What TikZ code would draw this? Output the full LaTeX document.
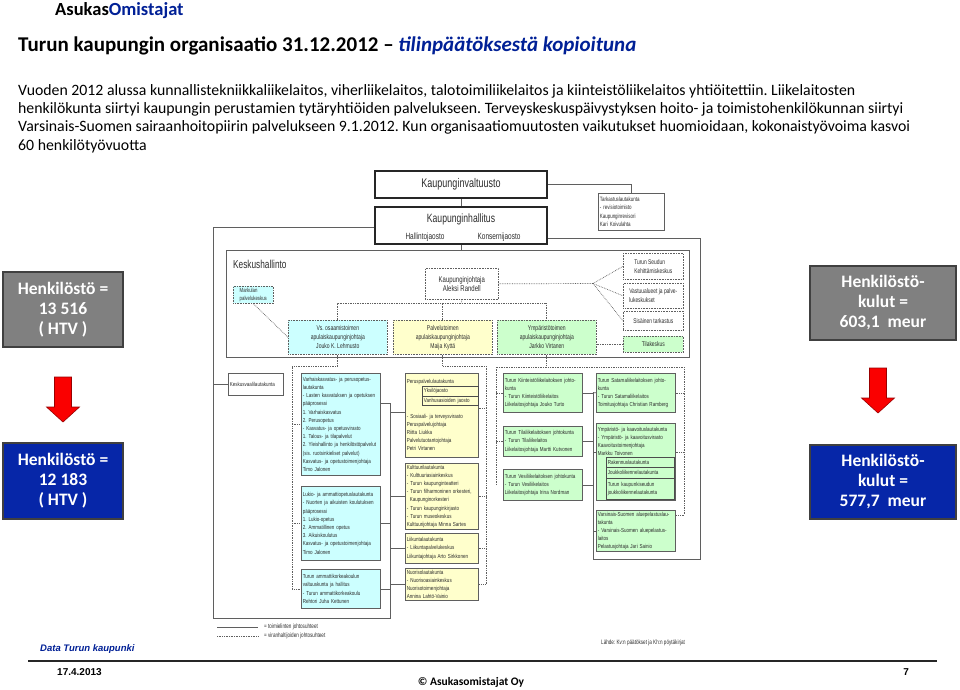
\documentclass[tikz,border=0pt]{standalone}
\usepackage{fontspec}
\setmainfont{Carlito}
\newfontfamily\orgfont[FakeStretch=0.72]{Liberation Sans}
\newfontfamily\lkfont[FakeStretch=0.78]{Liberation Sans}
\newfontfamily\arialfont{Liberation Sans}
\usetikzlibrary{positioning}
\frenchspacing
\definecolor{AONavy}{RGB}{0,32,150}
\definecolor{BoxGray}{RGB}{128,128,128}
\definecolor{BoxBlue}{RGB}{6,38,168}
\definecolor{ArrRed}{RGB}{250,0,0}
\definecolor{OrgLine}{RGB}{95,95,95}
\definecolor{OrgText}{RGB}{45,45,45}
\definecolor{OrgCyan}{RGB}{204,255,255}
\definecolor{OrgYellow}{RGB}{255,255,204}
\definecolor{OrgGreen}{RGB}{204,255,204}

\begin{document}
\begin{tikzpicture}[x=1pt, y=-1pt,
    statbox/.style={draw=black!75, line width=1.2pt, text=white, align=center,
                    font=\fontsize{17.5}{20}\selectfont\bfseries, inner sep=0pt},
    kvbox/.style={draw=black!85, line width=1.6pt, minimum width=172pt, text=OrgText},
    lkbox/.style={draw=OrgLine, line width=0.7pt, anchor=north west, align=left,
                  inner xsep=1.5pt, inner ysep=1.5pt, text=OrgText,
                  font=\lkfont\fontsize{5.8}{8.2}\selectfont},
    khbox/.style={draw=OrgLine, densely dotted, line width=0.6pt, anchor=north west,
                  inner sep=1.5pt, text=OrgText},
    khtext/.style={font=\orgfont\fontsize{7}{9}\selectfont},
    sidetext/.style={font=\orgfont\fontsize{6.8}{9}\selectfont, align=left},
    orgln/.style={draw=OrgLine, line width=0.7pt},
    dotln/.style={draw=OrgLine, densely dotted, line width=0.7pt},
    legtext/.style={font=\orgfont\fontsize{6.4}{8}\selectfont, text=OrgText, inner sep=0pt}
  ]
  \useasboundingbox (0,0) rectangle (960,689);
  \fill[white] (0,0) rectangle (960,689);

  % header
  \node[anchor=base west, inner sep=0pt, font=\fontsize{18.5}{20}\selectfont\bfseries] (logo) at (55,15.5)
       {Asukas\textcolor{AONavy}{Omistajat}};
  \node[anchor=base west, inner sep=0pt, font=\fontsize{21}{24}\selectfont\bfseries] (title) at (18,51)
       {Turun kaupungin organisaatio 31.12.2012 -- \textcolor{AONavy}{\itshape tilinpäätöksestä kopioituna}};
  \node[anchor=base west, inner sep=0pt, align=left, font=\fontsize{15.8}{18.3}\selectfont] (intro) at (18,150)
       {Vuoden 2012 alussa kunnallistekniikkaliikelaitos, viherliikelaitos, talotoimiliikelaitos ja kiinteistöliikelaitos yhtiöitettiin. Liikelaitosten\\
        henkilökunta siirtyi kaupungin perustamien tytäryhtiöiden palvelukseen. Terveyskeskuspäivystyksen hoito- ja toimistohenkilökunnan siirtyi\\
        Varsinais-Suomen sairaanhoitopiirin palvelukseen 9.1.2012. Kun organisaatiomuutosten vaikutukset huomioidaan, kokonaistyövoima kasvoi\\
        60 henkilötyövuotta};

  % side figures
  \node[statbox, fill=BoxGray, minimum width=120pt, minimum height=75pt] (hlo1) at (63,309.5)
       {Henkilöstö =\\13 516\\( HTV )};
  \node[statbox, fill=BoxBlue, minimum width=120pt, minimum height=76pt] (hlo2) at (63,481)
       {Henkilöstö =\\12 183\\( HTV )};
  \node[statbox, fill=BoxGray, minimum width=146pt, minimum height=74pt] (kul1) at (883,303)
       {Henkilöstö-\\kulut =\\603,1 \ meur};
  \node[statbox, fill=BoxBlue, minimum width=146pt, minimum height=74pt] (kul2) at (883,482)
       {Henkilöstö-\\kulut =\\577,7 \ meur};

  \foreach \ax/\at/\ah/\ap in {63/377/407/422, 878/368/398/413}{
    \filldraw[fill=ArrRed, draw=red!60!black, line width=0.6pt]
      (\ax-8.5,\at) -- (\ax+8.5,\at) -- (\ax+8.5,\ah) -- (\ax+16.5,\ah) -- (\ax,\ap)
      -- (\ax-16.5,\ah) -- (\ax-8.5,\ah) -- cycle;
  }

  % organisation chart
  \node[kvbox, minimum height=27pt, font=\orgfont\fontsize{12.5}{14}\selectfont] (kv) at (461,184.5)
       {Kaupunginvaltuusto};
  \node[kvbox, minimum height=37pt] (kh) at (461,225.5) {};
  \node[font=\orgfont\fontsize{12}{14}\selectfont, text=OrgText] (khname) at (461,219) {Kaupunginhallitus};
  \node[font=\orgfont\fontsize{9}{10}\selectfont, text=OrgText] (hj) at (425,237.5) {Hallintojaosto};
  \node[font=\orgfont\fontsize{9}{10}\selectfont, text=OrgText] (kj2) at (499,237.5) {Konsernijaosto};

  \node[lkbox, text width=63pt, minimum height=37pt, font=\orgfont\fontsize{6.2}{8.5}\selectfont] (tark) at (598,193)
       {Tarkastuslautakunta\\- revisiotoimisto\\Kaupunginrevisori\\Kari Koivulahta};

  \draw[orgln] (kv.south) -- (kh.north);
  \draw[orgln] (kv.east) -| (tark.north);

  \coordinate (frL) at (213,227);
  \coordinate (fbl) at (213,618);
  \coordinate (trL) at (390,403);
  \coordinate (frR) at (700,238);
  \coordinate (fbr) at (700,559);
  \coordinate (trR) at (593,392.5);
  \draw[orgln, line width=0.9pt] (kh.west |- frL) -- (frL) -- (fbl) -| (trL);
  \draw[orgln, line width=0.9pt] (kh.east |- frR) -- (frR) -- (fbr) -| (trR);

  % Keskushallinto
  \node[draw=OrgLine, line width=0.9pt, anchor=north west, minimum width=463pt, minimum height=107pt,
        inner sep=0pt] (kesk) at (226,250) {};
  \draw[orgln] (kh.south) -- (kh.south |- kesk.north);
  \node[anchor=base west, inner sep=0pt, text=OrgText, font=\orgfont\fontsize{11.5}{13}\selectfont]
       (keskt) at (233,268) {Keskushallinto};

  \node[khbox, minimum width=73pt, minimum height=31pt, align=center, font=\orgfont\fontsize{8.3}{9}\selectfont]
       (kjoht) at (425,268) {Kaupunginjohtaja\\Aleksi Randell};
  \node[khbox, fill=OrgCyan, minimum width=40pt, minimum height=17pt, align=left,
        font=\orgfont\fontsize{6}{7.5}\selectfont] (mark) at (233,286) {Markulan\\palvelukeskus};
  \node[khbox, khtext, fill=OrgCyan, minimum width=99pt, minimum height=34pt, align=center] (vs) at (288,320)
       {Vs. osaamistoimen\\apulaiskaupunginjohtaja\\Jouko K. Lehmusto};
  \node[khbox, khtext, fill=OrgYellow, minimum width=99pt, minimum height=34pt, align=center] (pal) at (393,320)
       {Palvelutoimen\\apulaiskaupunginjohtaja\\Maija Kyttä};
  \node[khbox, khtext, fill=OrgGreen, minimum width=99pt, minimum height=34pt, align=center] (ymp) at (497,320)
       {Ympäristötoimen\\apulaiskaupunginjohtaja\\Jarkko Virtanen};

  \node[khbox, sidetext, minimum width=60pt, minimum height=26pt] (tsk) at (623,253)
       {Turun Seudun\\Kehittämiskeskus};
  \node[khbox, sidetext, minimum width=60pt, minimum height=25pt] (vast) at (623,283)
       {Vastuualueet ja palve-\\lukeskukset};
  \node[khbox, sidetext, minimum width=60pt, minimum height=19pt] (sis) at (623,311)
       {Sisäinen tarkastus};
  \node[khbox, sidetext, fill=OrgGreen, minimum width=60pt, minimum height=16pt] (tila) at (623,336)
       {Tilakeskus};

  \coordinate (kjb) at (461.5,303);
  \coordinate (fan) at (593,283.5);
  \draw[dotln] (kjoht.south) -- (kjb);
  \draw[dotln] (vs.north) |- (kjb) -| (ymp.north);
  \draw[dotln] (pal.north) -- (pal.north |- kjb);
  \draw[dotln] (mark.south) -- (vs.west);
  \draw[dotln] (kjoht.east) -- (fan);
  \foreach \b in {tsk, vast, sis}{
    \draw[dotln] (fan) -- (\b.west);
  }
  \draw[dotln] (ymp.east |- tila.west) -- (tila.west);

  % lautakunnat
  \node[lkbox, text width=52pt, minimum height=22pt] (kvl) at (228,373) {Keskusvaalilautakunta};
  \draw[orgln] (kvl.west -| frL) -- (kvl.west);

  \node[lkbox, fill=OrgCyan, text width=76pt, minimum height=102pt] (vaka) at (301,373)
       {Varhaiskasvatus- ja perusopetus-\\lautakunta\\- Lasten kasvatuksen ja opetuksen\\pääprosessi\\
        1. Varhaiskasvatus\\2. Perusopetus\\- Kasvatus- ja opetusvirasto\\1. Talous- ja tilapalvelut\\
        2. Yleishallinto ja henkilöstöpalvelut\\(sis. ruotsinkieliset palvelut)\\
        Kasvatus- ja opetustoimenjohtaja\\Timo Jalonen};
  \node[lkbox, fill=OrgCyan, text width=76pt, minimum height=74pt] (lukio) at (301,486)
       {Lukio- ja ammattiopetuslautakunta\\- Nuorten ja aikuisten koulutuksen\\pääprosessi\\
        1. Lukio-opetus\\2. Ammatillinen opetus\\3. Aikuiskoulutus\\
        Kasvatus- ja opetustoimenjohtaja\\Timo Jalonen};
  \node[lkbox, fill=OrgCyan, text width=76pt, minimum height=39pt] (amk) at (301,569)
       {Turun ammattikorkeakoulun\\valtuuskunta ja hallitus\\- Turun ammattikorkeakoulu\\Rehtori Juha Kettunen};

  \node[lkbox, fill=OrgYellow, text width=70pt, minimum height=84pt] (perus) at (405,373)
       {Peruspalvelulautakunta\\[26pt]- Sosiaali- ja terveysvirasto\\Peruspalvelujohtaja\\Riitta Liukka\\
        Palvelutuotantojohtaja\\Petri Virtanen};
  \node[lkbox, fill=OrgYellow, draw=black!70, text width=53pt, minimum height=9.5pt, inner ysep=0.5pt] (yks) at (422,386)
       {Yksilöjaosto};
  \node[lkbox, fill=OrgYellow, draw=black!70, text width=53pt, minimum height=9.5pt, inner ysep=0.5pt] (vanh) at (422,395.5)
       {Vanhusasioiden jaosto};
  \node[lkbox, fill=OrgYellow, text width=70pt, minimum height=65pt] (kult) at (405,463)
       {Kulttuurilautakunta\\- Kulttuuriasiainkeskus\\- Turun kaupunginteatteri\\
        - Turun filharmoninen orkesteri,\\\hspace*{3pt}Kaupunginorkesteri\\- Turun kaupunginkirjasto\\
        - Turun museokeskus\\Kulttuurijohtaja Minna Sartes};
  \node[lkbox, fill=OrgYellow, text width=70pt, minimum height=30pt] (liik) at (405,533)
       {Liikuntalautakunta\\- Liikuntapalvelukeskus\\Liikuntajohtaja Arto Sirkkonen};
  \node[lkbox, fill=OrgYellow, text width=70pt, minimum height=32pt] (nuor) at (405,568)
       {Nuorisolautakunta\\- Nuorisoasiainkeskus\\Nuorisotoimenjohtaja\\Annina Lahtö-Vainio};

  \node[lkbox, fill=OrgGreen, text width=76pt, minimum height=39pt] (kiin) at (503,373)
       {Turun Kiinteistöliikelaitoksen johto-\\kunta\\- Turun Kiinteistöliikelaitos\\Liikelaitosjohtaja Jouko Turto};
  \node[lkbox, fill=OrgGreen, text width=76pt, minimum height=30pt] (tilal) at (503,426)
       {Turun Tilaliikelaitoksen johtokunta\\- Turun Tilaliikelaitos\\Liikelaitosjohtaja Martti Kutvonen};
  \node[lkbox, fill=OrgGreen, text width=76pt, minimum height=31pt] (vesi) at (503,469)
       {Turun Vesiliikelaitoksen johtokunta\\- Turun Vesiliikelaitos\\Liikelaitosjohtaja Irina Nordman};

  \node[lkbox, fill=OrgGreen, text width=76pt, minimum height=39pt] (sata) at (596,373)
       {Turun Satamaliikelaitoksen johto-\\kunta\\- Turun Satamaliikelaitos\\Toimitusjohtaja Christian Ramberg};
  \node[lkbox, fill=OrgGreen, text width=76pt, minimum height=77pt] (ympl) at (596,423)
       {Ympäristö- ja kaavoituslautakunta\\- Ympäristö- ja kaavoitusvirasto\\Kaavoitustoimenjohtaja\\
        Markku Toivonen\\[33pt]\mbox{}};
  \node[lkbox, fill=OrgGreen, draw=black!70, text width=65pt, minimum height=10pt, inner ysep=0.5pt] (rak) at (606,457)
       {Rakennuslautakunta};
  \node[lkbox, fill=OrgGreen, draw=black!70, text width=65pt, minimum height=11pt, inner ysep=0.5pt] (jouk) at (606,467)
       {Joukkoliikennelautakunta};
  \node[lkbox, fill=OrgGreen, draw=black!70, text width=65pt, minimum height=21pt, inner ysep=0.5pt] (tkj) at (606,478)
       {Turun kaupunkiseudun\\joukkoliikennelautakunta};
  \node[lkbox, fill=OrgGreen, text width=76pt, minimum height=41pt] (vspe) at (596,510)
       {Varsinais-Suomen aluepelastuslau-\\takunta\\- Varsinais-Suomen aluepelastus-\\laitos\\Pelastusjohtaja Jari Sainio};

  % toimielinten johtosuhteet
  \draw[orgln] (vaka.north east |- trL) -- (trL);
  \foreach \b in {lukio, amk}{
    \draw[orgln] (\b.east) -- (\b.east -| trL);
  }
  \draw[orgln] ([yshift=3pt]perus.west -| trL) -- ([yshift=3pt]perus.west);
  \foreach \b in {kult, liik, nuor}{
    \draw[orgln] (\b.west -| trL) -- (\b.west);
  }
  \foreach \b in {kiin, tilal, vesi}{
    \draw[orgln] (\b.east) -- (\b.east -| trR);
  }
  \draw[orgln] (trR) -- (sata.west);
  \draw[orgln] ([yshift=10pt]ympl.west -| trR) -- ([yshift=10pt]ympl.west);
  \draw[orgln] (vspe.west -| trR) -- (vspe.west);

  % viranhaltijoiden johtosuhteet
  \coordinate (dlt) at (292,366);
  \coordinate (dyt) at (486,366);
  \coordinate (dgt) at (496,367);
  \coordinate (dgr) at (684,367);
  \draw[dotln] (vs.south) |- (dlt) -- (dlt |- amk.west) -- (amk.west);
  \foreach \b in {vaka, lukio}{
    \draw[dotln] (dlt |- \b.west) -- (\b.west);
  }
  \draw[dotln] (pal.south) |- (dyt) -- (dyt |- nuor.east) -- (nuor.east);
  \draw[dotln] ([yshift=7pt]perus.east) -- ([yshift=7pt]perus.east -| dyt);
  \foreach \b in {kult, liik}{
    \draw[dotln] (\b.east) -- (\b.east -| dyt);
  }
  \draw[dotln] (ymp.south) -- (ymp.south |- dgt);
  \draw[dotln] (dgt |- vesi.west) -- (dgt) -- (dgr) -- ([yshift=16pt]vspe.east -| dgr) -- ([yshift=16pt]vspe.east);
  \foreach \b in {kiin, tilal}{
    \draw[dotln] (\b.west) -- (\b.west -| dgt);
  }
  \draw[dotln] (sata.east) -- (sata.east -| dgr);
  \draw[dotln] ([yshift=10pt]ympl.east) -- ([yshift=10pt]ympl.east -| dgr);

  % legend and source
  \coordinate (lg1) at (217,627);
  \coordinate (lg2) at (217,636);
  \coordinate (lg1e) at (258,627);
  \coordinate (lg2e) at (258,636);
  \draw[orgln] (lg1) -- (lg1e);
  \draw[dotln] (lg2) -- (lg2e);
  \node[legtext, right=6pt of lg1e] (lg1t) {= toimielinten johtosuhteet};
  \node[legtext, right=6pt of lg2e] (lg2t) {= viranhaltijoiden johtosuhteet};
  \node[legtext, anchor=west] (lahde) at (601,643) {Lähde: Kv:n päätökset ja Kh:n pöytäkirjat};

  % footer
  \node[anchor=west, inner sep=0pt, text=AONavy, font=\arialfont\fontsize{9.5}{11}\selectfont\bfseries\itshape]
       (data) at (40,649) {Data Turun kaupunki};
  \draw[black!85, line width=1.6pt] (28,661) -- (937,661);
  \node[anchor=west, inner sep=0pt, font=\arialfont\fontsize{10}{12}\selectfont\bfseries] (date) at (57,672) {17.4.2013};
  \node[anchor=east, inner sep=0pt, font=\arialfont\fontsize{10}{12}\selectfont\bfseries] (page) at (909,672) {7};
  \node[inner sep=0pt, font=\fontsize{11.5}{13}\selectfont\bfseries] (copy) at (471,682) {© Asukasomistajat Oy};
\end{tikzpicture}
\end{document}
